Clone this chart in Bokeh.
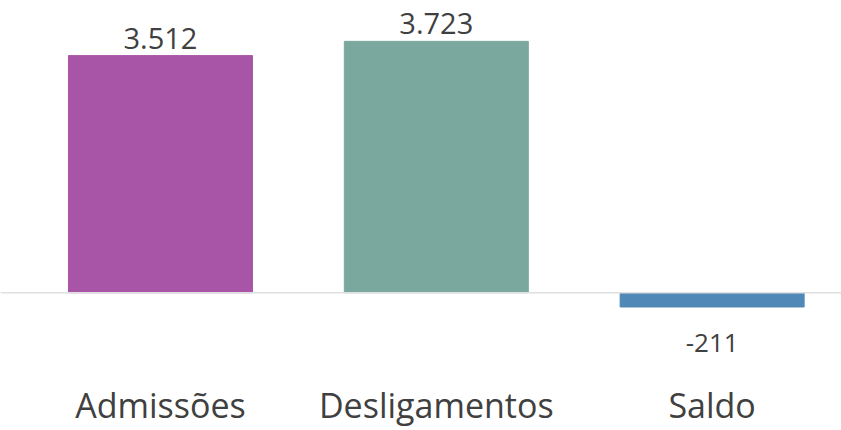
from bokeh.plotting import figure
from bokeh.models import Range1d, FixedTicker, Span, ColumnDataSource
from bokeh.core.properties import value
from bokeh.embed import file_html
from bokeh.resources import INLINE

categories = ["Admissões", "Desligamentos", "Saldo"]
values = [3512, 3723, -211]
colors = ["#A855A8", "#7BA89E", "#5088B8"]

FONT = "Open Sans"
TEXT_COLOR = "#404040"

idx = list(range(len(categories)))
labels = [f"{v:,}".replace(",", ".") for v in values]

pos = [i for i, v in zip(idx, values) if v >= 0]
neg = [i for i, v in zip(idx, values) if v < 0]

src = ColumnDataSource(dict(x=idx, top=values, color=colors, label=labels))
src_pos = ColumnDataSource(dict(x=pos, y=[values[i] for i in pos], label=[labels[i] for i in pos]))
src_neg = ColumnDataSource(dict(x=neg, y=[values[i] for i in neg], label=[labels[i] for i in neg]))

p = figure(width=841, height=430, output_backend="svg", toolbar_location=None,
           x_range=Range1d(-0.58, 2.469), y_range=Range1d(-1137, 4328),
           min_border_left=0, min_border_right=0, min_border_top=0, min_border_bottom=0)
p.outline_line_color = None
p.background_fill_color = "white"
p.border_fill_color = "white"
p.grid.visible = False
p.yaxis.visible = False

p.vbar(x="x", top="top", bottom=0, width=0.667, color="color", source=src)

p.add_layout(Span(location=0, dimension="width", line_color="#e0e0e0", line_width=1.5))

p.text(x="x", y="y", text="label", source=src_pos, text_align="center", text_baseline="bottom",
       y_offset=-7, text_font=value(FONT), text_font_size="29px", text_color=TEXT_COLOR)
p.text(x="x", y="y", text="label", source=src_neg, text_align="center", text_baseline="top",
       y_offset=27, text_font=value(FONT), text_font_size="26px", text_color=TEXT_COLOR)

ax = p.xaxis[0]
ax.ticker = FixedTicker(ticks=idx)
ax.major_label_overrides = {i: c for i, c in zip(idx, categories)}
ax.axis_line_color = None
ax.major_tick_line_color = None
ax.minor_tick_line_color = None
ax.major_label_text_font = FONT
ax.major_label_text_font_size = "34px"
ax.major_label_text_color = TEXT_COLOR
ax.major_label_standoff = 6

open("out.html", "w").write(file_html(p, INLINE))
